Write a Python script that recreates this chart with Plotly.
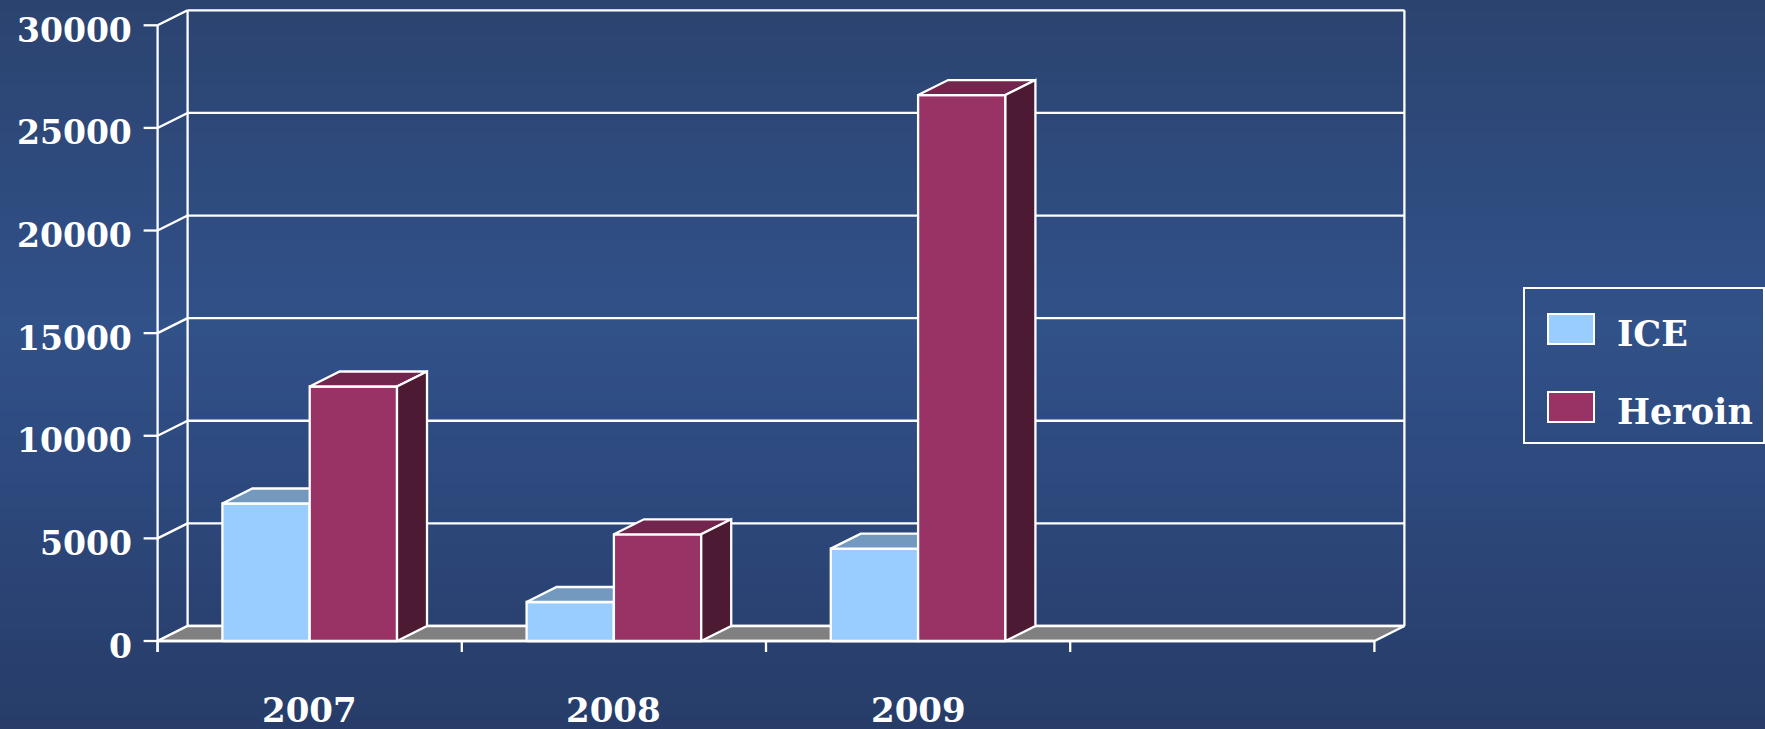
import plotly.graph_objects as go

# ---- data ----
categories = ["2007", "2008", "2009"]
ice_values = [6700, 1900, 4500]
heroin_values = [12400, 5200, 26600]
y_ticks = [0, 5000, 10000, 15000, 20000, 25000, 30000]
series_names = ["ICE", "Heroin"]

# ---- geometry / style ----
W, H = 1765, 729
n_slots = 4                     # 3 categories + an empty slot, as in the reference
px_per_x = 304.2
px_per_y = 615.7 / 30000
x_front_px, y_zero_px = 157.6, 641.0
x0 = -0.5 - x_front_px / px_per_x
x1 = x0 + W / px_per_x
y1 = y_zero_px / px_per_y
y0 = y1 - H / px_per_y
DX = 30 / px_per_x              # depth offset in x units
DY = 15 / px_per_y              # depth offset in y units
BAR_W = 0.287
WHITE = "white"
LW = 2.3
FONT = "DejaVu Serif"

ice_front, ice_top, ice_side = "#99CCFF", "#7399BF", "#5C7A99"
her_front, her_top, her_side = "#993366", "#73264D", "#4D1A33"
floor_col = "#808080"

fig = go.Figure()


def poly(xs, ys, fill, lw=LW, name=None):
    fig.add_trace(go.Scatter(x=xs + [xs[0]], y=ys + [ys[0]], mode="lines", fill="toself",
                             fillcolor=fill, line=dict(color=WHITE, width=lw),
                             hoverinfo="skip" if name is None else "name", name=name or "",
                             showlegend=False))


def seg(xs, ys, lw=LW):
    fig.add_trace(go.Scatter(x=xs, y=ys, mode="lines", line=dict(color=WHITE, width=lw),
                             hoverinfo="skip", showlegend=False))


left, right = -0.5, n_slots - 0.5
ymax = y_ticks[-1]

# back wall gridlines + left wall diagonals
for v in y_ticks:
    seg([left + DX, right + DX], [v + DY, v + DY])
    seg([left, left + DX], [v, v + DY])
seg([left + DX, left + DX], [DY, ymax + DY])
seg([right + DX, right + DX], [DY, ymax + DY])

# floor
poly([left, right, right + DX, left + DX], [0, 0, DY, DY], floor_col)

# front y axis + ticks
seg([left, left], [-11 / px_per_y, ymax])
for v in y_ticks:
    seg([left - 14 / px_per_x, left], [v, v])
# x ticks at slot boundaries
for k in range(n_slots + 1):
    xb = left + k
    seg([xb, xb], [0, -11 / px_per_y])
seg([left, right], [0, 0])


def bar3d(xl, h, front, top, side, name):
    xr = xl + BAR_W
    poly([xl, xr, xr, xl], [0, 0, h, h], front, name=name)
    poly([xl, xr, xr + DX, xl + DX], [h, h, h + DY, h + DY], top)
    poly([xr, xr, xr + DX, xr + DX], [0, h, h + DY, DY], side)


# bars drawn category by category (painter's order)
for i, cat in enumerate(categories):
    bar3d(i - BAR_W, ice_values[i], ice_front, ice_top, ice_side, series_names[0])
    bar3d(i, heroin_values[i], her_front, her_top, her_side, series_names[1])

annotations = []
for v in y_ticks:
    annotations.append(dict(x=left - 24 / px_per_x, y=v - 5 / px_per_y, xref="x", yref="y", text=f"<b>{v}</b>",
                            showarrow=False, xanchor="right", yanchor="middle",
                            font=dict(family=FONT, size=33, color=WHITE)))
for i, cat in enumerate(categories):
    annotations.append(dict(x=i, y=-(710 - y_zero_px) / px_per_y, xref="x", yref="y", text=f"<b>{cat}</b>",
                            showarrow=False, xanchor="center", yanchor="middle",
                            font=dict(family=FONT, size=34, color=WHITE)))


def px(xp):
    return xp / W


def py(yp):
    return 1 - yp / H


shapes = []
# gradient background
stops = [(0.0, (43, 67, 111)), (0.45, (49, 81, 137)), (1.0, (39, 60, 105))]
nb = 60
for k in range(nb):
    t = (k + 0.5) / nb
    for a in range(len(stops) - 1):
        if stops[a][0] <= t <= stops[a + 1][0]:
            f = (t - stops[a][0]) / (stops[a + 1][0] - stops[a][0])
            c = tuple(round(stops[a][1][j] + f * (stops[a + 1][1][j] - stops[a][1][j])) for j in range(3))
            break
    shapes.append(dict(type="rect", xref="paper", yref="paper", x0=0, x1=1,
                       y0=1 - (k + 1) / nb - 0.002, y1=1 - k / nb + 0.002, fillcolor=f"rgb{c}",
                       line=dict(width=0), layer="below"))

# legend (drawn manually to match the large swatches)
shapes.append(dict(type="rect", xref="paper", yref="paper", x0=px(1524), x1=px(1764), y0=py(443), y1=py(288),
                   line=dict(color=WHITE, width=2), fillcolor="rgba(0,0,0,0)"))
legend_cols = [ice_front, her_front]
legend_y = [329, 407]
for name, col, yc in zip(series_names, legend_cols, legend_y):
    shapes.append(dict(type="rect", xref="paper", yref="paper", x0=px(1548), x1=px(1594),
                       y0=py(yc + 15), y1=py(yc - 15), fillcolor=col, line=dict(color=WHITE, width=2)))
    annotations.append(dict(x=px(1615), y=py(yc + 4), xref="paper", yref="paper", text=f"<b>{name}</b>",
                            showarrow=False, xanchor="left", yanchor="middle",
                            font=dict(family=FONT, size=35, color=WHITE)))

fig.update_layout(
    width=W, height=H, margin=dict(l=0, r=0, t=0, b=0),
    paper_bgcolor="rgb(45,72,120)", plot_bgcolor="rgba(0,0,0,0)",
    xaxis=dict(range=[x0, x1], visible=False, fixedrange=True),
    yaxis=dict(range=[y0, y1], visible=False, fixedrange=True),
    showlegend=False,
    shapes=shapes, annotations=annotations,
)

fig.write_html("out.html", config={"displayModeBar": False},
               post_script="document.body.style.margin='0';document.body.style.overflow='hidden';")
